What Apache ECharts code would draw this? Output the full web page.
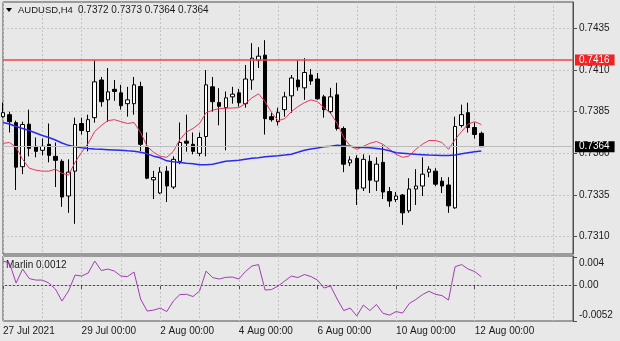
<!DOCTYPE html>
<html>
<head>
<meta charset="utf-8">
<script src="https://cdn.jsdelivr.net/npm/echarts@6/dist/echarts.min.js"></script>
<style>
  html, body { margin: 0; padding: 0; background: #e8e8e8; }
  #chart { width: 620px; height: 341px; }
</style>
</head>
<body>
<div id="chart"></div>
<script>
// AUDUSD H4 bars, trading days and 4-hour sessions
const days = ['27 Jul', '28 Jul', '29 Jul', '30 Jul', '2 Aug', '3 Aug', '4 Aug', '5 Aug',
  '6 Aug', '9 Aug', '10 Aug', '11 Aug', '12 Aug', '13 Aug', '16 Aug'];
const hours = ['00:00', '04:00', '08:00', '12:00', '16:00', '20:00'];
const xTickLabels = ['27 Jul 2021', '29 Jul 00:00', '2 Aug 00:00', '4 Aug 00:00',
  '6 Aug 00:00', '10 Aug 00:00', '12 Aug 00:00'];

const open = [0.73820,0.73832,0.73784,0.73520,0.73775,0.73642,0.73618,0.73654,0.73582,0.73552,
  0.73344,0.73493,0.73779,0.73731,0.73814,0.74040,0.73921,0.73984,0.73963,0.73898,
  0.73898,0.74001,0.73642,0.73441,0.73362,0.73493,0.73398,0.73552,0.73673,0.73654,
  0.73600,0.73701,0.73999,0.73905,0.73874,0.73939,0.73963,0.73898,0.74040,0.74159,
  0.74189,0.73820,0.73790,0.73862,0.73945,0.74040,0.73993,0.74070,0.74046,0.73939,
  0.73850,0.73951,0.73749,0.73543,0.73570,0.73392,0.73552,0.73433,0.73546,0.73371,
  0.73323,0.73350,0.73255,0.73386,0.73404,0.73487,0.73493,0.73433,0.73410,0.73273,
  0.73767,0.73844,0.73755,0.7372];
const close = [0.73844,0.73790,0.73517,0.73773,0.73630,0.73612,0.73642,0.73588,0.73558,0.73338,
  0.73487,0.73773,0.73737,0.73802,0.74029,0.73910,0.73969,0.73971,0.73886,0.73921,
  0.74011,0.73654,0.73451,0.73455,0.73487,0.73404,0.73564,0.73665,0.73661,0.73612,
  0.73695,0.74011,0.73910,0.73882,0.73933,0.73955,0.73904,0.74046,0.74171,0.74183,
  0.73808,0.73802,0.73844,0.73939,0.74052,0.73999,0.74085,0.74034,0.73927,0.73862,
  0.73939,0.73749,0.73535,0.73561,0.73386,0.73564,0.73439,0.73535,0.73368,0.73314,
  0.73344,0.73243,0.73386,0.73404,0.73475,0.73505,0.73415,0.73404,0.73285,0.73761,
  0.73832,0.73755,0.73713,0.7364];
const high = [0.73904,0.73850,0.73796,0.73790,0.73862,0.73695,0.73689,0.73779,0.73665,0.73564,
  0.73564,0.73814,0.73814,0.73832,0.74159,0.74058,0.74112,0.74040,0.74011,0.73999,
  0.74058,0.74030,0.73725,0.73495,0.73517,0.73523,0.73582,0.73785,0.73832,0.73725,
  0.73725,0.74100,0.74058,0.73991,0.73971,0.73999,0.73987,0.74130,0.74261,0.74237,
  0.74279,0.73844,0.73874,0.73969,0.74070,0.74159,0.74171,0.74106,0.74082,0.73951,
  0.73993,0.74023,0.73761,0.73582,0.73588,0.73594,0.73588,0.73576,0.73648,0.73398,
  0.73368,0.73356,0.73451,0.73505,0.73576,0.73523,0.73511,0.73457,0.73457,0.73820,
  0.73892,0.73904,0.73785,0.7373];
const low = [0.73814,0.73725,0.73380,0.73475,0.73582,0.73576,0.73588,0.73546,0.73398,0.73279,
  0.73243,0.73177,0.73713,0.73612,0.73784,0.73880,0.73790,0.73915,0.73862,0.73820,
  0.73832,0.73614,0.73445,0.73326,0.73356,0.73308,0.73386,0.73535,0.73610,0.73594,
  0.73582,0.73582,0.73850,0.73768,0.73618,0.73898,0.73880,0.73874,0.73981,0.74112,
  0.73713,0.73790,0.73767,0.73820,0.73844,0.73975,0.73921,0.74011,0.73921,0.73814,
  0.73838,0.73737,0.73487,0.73523,0.73290,0.73374,0.73362,0.73374,0.73326,0.73279,
  0.73308,0.73171,0.73243,0.73290,0.73344,0.73457,0.73404,0.73362,0.73243,0.73267,
  0.73755,0.73725,0.73689,0.7364];

// fast (red) and slow (blue) moving averages
const maFast = [0.73660,0.73665,0.73636,0.73564,0.73511,0.73499,0.73493,0.73493,0.73505,0.73481,
  0.73469,0.73546,0.73606,0.73660,0.73731,0.73767,0.73796,0.73802,0.73790,0.73779,
  0.73785,0.73725,0.73642,0.73606,0.73582,0.73576,0.73612,0.73683,0.73728,0.73749,
  0.73779,0.73844,0.73859,0.73868,0.73871,0.73872,0.73874,0.73898,0.73933,0.73957,
  0.73910,0.73844,0.73796,0.73808,0.73850,0.73880,0.73904,0.73921,0.73910,0.73874,
  0.73841,0.73779,0.73695,0.73645,0.73624,0.73642,0.73660,0.73671,0.73654,0.73624,
  0.73594,0.73576,0.73584,0.73624,0.73654,0.73677,0.73677,0.73665,0.73624,0.73683,
  0.73731,0.73776,0.73790,0.73773];
const maSlow = [0.73785,0.73776,0.73761,0.73749,0.73737,0.73722,0.73707,0.73695,0.73680,0.73662,
  0.73648,0.73639,0.73633,0.73629,0.73626,0.73624,0.73622,0.73620,0.73618,0.73615,
  0.73613,0.73607,0.73597,0.73583,0.73573,0.73555,0.73549,0.73545,0.73540,0.73538,
  0.73532,0.73532,0.73535,0.73543,0.73552,0.73555,0.73558,0.73564,0.73570,0.73574,
  0.73579,0.73583,0.73586,0.73590,0.73595,0.73606,0.73618,0.73626,0.73632,0.73639,
  0.73643,0.73648,0.73646,0.73642,0.73637,0.73635,0.73633,0.73629,0.73624,0.73615,
  0.73604,0.73601,0.73597,0.73594,0.73592,0.73590,0.73589,0.73587,0.73587,0.73590,
  0.73597,0.73604,0.73609,0.73614];

// Marlin oscillator
const marlin = [0.00347,0.00318,0.00029,0.00231,0.00094,0.00072,0.00072,0.00029,-0.00058,-0.00231,
  -0.00087,0.00145,0.00130,0.00174,0.00347,0.00210,0.00231,0.00202,0.00130,0.00123,
  0.00188,-0.00202,-0.00376,-0.00362,-0.00333,-0.00383,-0.00231,-0.00137,-0.00134,-0.00166,
  -0.00087,0.00202,0.00108,0.00087,0.00111,0.00116,0.00087,0.00195,0.00275,0.00296,
  -0.00072,-0.00065,-0.00014,0.00058,0.00130,0.00108,0.00152,0.00123,0.00072,-0.00043,
  -0.00014,-0.00202,-0.00369,-0.00333,-0.00448,-0.00289,-0.00369,-0.00282,-0.00409,-0.00434,
  -0.00383,-0.00405,-0.00268,-0.00210,-0.00140,-0.00090,-0.00134,-0.00152,-0.00217,0.00265,
  0.00296,0.00231,0.00195,0.0012];

const priceTicks = [0.7310, 0.7335, 0.7360, 0.7385, 0.7410, 0.7435];
const marlinTicks = [-0.0052, 0, 0.004];
const levelPrice = 0.7416;
const symbol = 'AUDUSD,H4';

// build the category axis: every 4-hour slot, including empty slots to the right
const slots = [];
days.forEach(d => hours.forEach(h => slots.push(d + ' ' + h)));
const categories = slots.slice(0, 88);

const n = close.length;
const candles = open.map((o, i) => [o, close[i], low[i], high[i]]);
const last = n - 1;
const lastPrice = close[last];

const FONT = "'Liberation Sans', Arial, sans-serif";
const TXT = '#1a1a1a';
const FRAME = '#4f4f4f';
const GRIDC = '#c3c3c3';

const dayLine = (i) => i % 6 === 0;
const labelSlot = (i) => i % 12 === 0 && i / 12 < xTickLabels.length;

const priceTag = (text, bg) => ({
  show: true, position: 'end', distance: 2,
  formatter: () => text,
  color: '#ffffff', backgroundColor: bg,
  padding: [1, 5, 0, 4], lineHeight: 10, fontSize: 10, fontFamily: FONT
});

const chart = echarts.init(document.getElementById('chart'), null, { renderer: 'canvas' });

chart.setOption({
  animation: false,
  backgroundColor: '#e8e8e8',
  grid: [
    { left: 3, right: 47, top: 2, height: 252, show: true, backgroundColor: '#e8e8e8', borderColor: FRAME, borderWidth: 1 },
    { left: 3, right: 47, top: 256, height: 65, show: true, backgroundColor: '#e8e8e8', borderColor: FRAME, borderWidth: 1 }
  ],
  xAxis: [
    {
      type: 'category', gridIndex: 0, data: categories, boundaryGap: false,
      axisLine: { show: false }, axisTick: { show: false }, axisLabel: { show: false },
      splitLine: { show: true, interval: dayLine, lineStyle: { color: GRIDC, type: [2, 2], width: 1 } }
    },
    {
      type: 'category', gridIndex: 1, data: categories, boundaryGap: false,
      axisLine: { show: true, lineStyle: { color: FRAME } },
      axisTick: { show: true, interval: labelSlot, length: 4, lineStyle: { color: FRAME } },
      axisLabel: {
        show: true, interval: labelSlot, align: 'left', margin: 5,
        fontSize: 10, fontFamily: FONT, color: TXT,
        formatter: (v, i) => xTickLabels[i / 12]
      },
      splitLine: { show: true, interval: dayLine, lineStyle: { color: GRIDC, type: [2, 2], width: 1 } }
    }
  ],
  yAxis: [
    {
      type: 'value', gridIndex: 0, position: 'right',
      min: 0.72996, max: 0.74508,
      axisLine: { show: true, lineStyle: { color: FRAME } },
      axisTick: { show: true, length: 4, customValues: priceTicks, lineStyle: { color: FRAME } },
      axisLabel: {
        customValues: priceTicks, margin: 6, fontSize: 10, fontFamily: FONT, color: TXT,
        formatter: v => v.toFixed(4)
      },
      splitLine: { show: true, lineStyle: { color: GRIDC, type: [2, 2], width: 1 } }
    },
    {
      type: 'value', gridIndex: 1, position: 'right',
      min: -0.0052, max: 0.0042,
      axisLine: { show: true, lineStyle: { color: FRAME } },
      axisTick: { show: true, length: 4, customValues: marlinTicks, lineStyle: { color: FRAME } },
      axisLabel: {
        customValues: marlinTicks, margin: 6, fontSize: 10, fontFamily: FONT, color: TXT,
        formatter: v => {
          if (v > 0) return '{t|' + v.toString() + '}';
          if (v < 0) return '{b|' + v.toString() + '}';
          return '0.00';
        },
        rich: {
          t: { fontSize: 10, fontFamily: FONT, color: TXT, padding: [11, 0, 0, 0] },
          b: { fontSize: 10, fontFamily: FONT, color: TXT, padding: [0, 0, 11, 0] }
        }
      },
      splitLine: { show: false }
    }
  ],
  series: [
    {
      // closing prices as an invisible line; carries the bid line behind the bars
      type: 'line', name: 'bid', xAxisIndex: 0, yAxisIndex: 0, z: 1, silent: true,
      data: close, showSymbol: false, symbol: 'none',
      lineStyle: { opacity: 0 },
      markLine: {
        silent: true, symbol: ['none', 'none'], animation: false, precision: 5,
        data: [{ yAxis: lastPrice }],
        lineStyle: { color: '#bcbcbc', width: 1, type: 'solid', opacity: 1 },
        label: priceTag(lastPrice.toFixed(4), '#000000')
      }
    },
    {
      type: 'candlestick', name: symbol, xAxisIndex: 0, yAxisIndex: 0, z: 2,
      data: candles, barWidth: 4,
      itemStyle: { color: '#ffffff', color0: '#000000', borderColor: '#000000', borderColor0: '#000000', borderWidth: 1 }
    },
    {
      type: 'line', name: 'MA fast', xAxisIndex: 0, yAxisIndex: 0, z: 3,
      data: maFast, showSymbol: false, symbol: 'none', silent: true,
      lineStyle: { color: '#e5385a', width: 1 },
      markLine: {
        silent: true, symbol: ['none', 'none'], animation: false, precision: 5,
        data: [{ yAxis: levelPrice }],
        lineStyle: { color: '#f04444', width: 1.5, type: 'solid' },
        label: priceTag(levelPrice.toFixed(4), '#f02424')
      }
    },
    {
      type: 'line', name: 'MA slow', xAxisIndex: 0, yAxisIndex: 0, z: 3,
      data: maSlow, showSymbol: false, symbol: 'none', silent: true,
      lineStyle: { color: '#2a2af2', width: 1.5 }
    },
    {
      type: 'line', name: 'Marlin', xAxisIndex: 1, yAxisIndex: 1, z: 3,
      data: marlin, showSymbol: false, symbol: 'none', silent: true,
      lineStyle: { color: '#a23cb2', width: 1 },
      markLine: {
        silent: true, symbol: ['none', 'none'], animation: false, precision: 5, label: { show: false },
        data: [{ yAxis: 0 }],
        lineStyle: { color: GRIDC, width: 1, type: [2, 2] }
      }
    }
  ],
  graphic: [
    { type: 'polygon', shape: { points: [[6, 8], [12, 8], [9, 12]] }, style: { fill: '#000' }, silent: true },
    {
      type: 'text', x: 18, y: 10, silent: true,
      style: { text: symbol, font: '9.5px ' + FONT, fill: TXT, verticalAlign: 'middle' }
    },
    {
      type: 'text', x: 78, y: 10, silent: true,
      style: {
        text: [open[last], high[last], low[last], close[last]].map(v => v.toFixed(4)).join(' '),
        font: '10px ' + FONT, fill: TXT, verticalAlign: 'middle'
      }
    },
    {
      type: 'text', x: 6, y: 265, silent: true,
      style: { text: 'Marlin ' + marlin[last].toFixed(4), font: '10px ' + FONT, fill: TXT, verticalAlign: 'middle' }
    }
  ]
});
</script>
</body>
</html>
